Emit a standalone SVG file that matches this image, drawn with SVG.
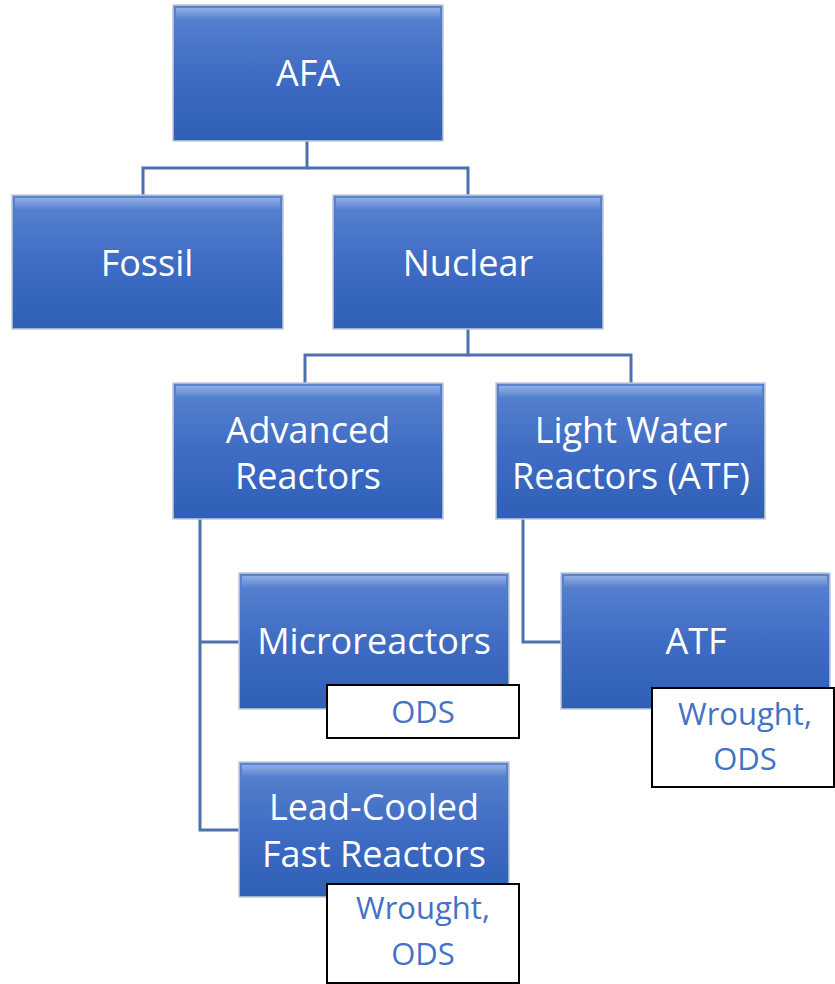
<svg xmlns="http://www.w3.org/2000/svg" width="835" height="984" viewBox="0 0 835 984">
<defs>
<linearGradient id="g" x1="0" y1="0" x2="0" y2="1">
<stop offset="0" stop-color="#5A84D0"/>
<stop offset="0.5" stop-color="#3F6CC4"/>
<stop offset="1" stop-color="#2F5FB7"/>
</linearGradient>
<linearGradient id="hl" x1="0" y1="0" x2="0" y2="1">
<stop offset="0" stop-color="#9DB8E8" stop-opacity="0.8"/>
<stop offset="1" stop-color="#9DB8E8" stop-opacity="0"/>
</linearGradient>
</defs>
<style>
.box{fill:url(#g);stroke:#C3CCDA;stroke-width:1.5}
.hl{fill:url(#hl)}
.t{font-family:"Open Sans","Liberation Sans",sans-serif;font-size:36px;fill:#FFFFFF;text-anchor:middle}
.nb{fill:#FFFFFF;stroke:#000000;stroke-width:2}
.nt{font-family:"Open Sans","Liberation Sans",sans-serif;font-size:31px;fill:#4472C4;text-anchor:middle}
.c{fill:none;stroke:#4D70AE;stroke-width:3}
</style>
<g id="connectors">
<polyline class="c" points="307,141 307,168 143,168 143,195"/>
<polyline class="c" points="307,168 468,168 468,195"/>
<polyline class="c" points="468,329 468,355 305,355 305,383"/>
<polyline class="c" points="468,355 631,355 631,383"/>
<polyline class="c" points="200,519 200,830 239,830"/>
<polyline class="c" points="200,642 239,642"/>
<polyline class="c" points="523,519 523,642 561,642"/>
</g>
<g id="afa">
<rect class="box" x="173" y="5" width="270" height="136"/>
<rect class="hl" x="176" y="8" width="264" height="12"/>
<text class="t" x="308" y="86">AFA</text>
</g>
<g id="fossil">
<rect class="box" x="12" y="195" width="271" height="134"/>
<rect class="hl" x="15" y="198" width="265" height="12"/>
<text class="t" x="147" y="276">Fossil</text>
</g>
<g id="nuclear">
<rect class="box" x="333" y="195" width="270" height="134"/>
<rect class="hl" x="336" y="198" width="264" height="12"/>
<text class="t" x="468" y="276">Nuclear</text>
</g>
<g id="advanced">
<rect class="box" x="173" y="383" width="270" height="136"/>
<rect class="hl" x="176" y="386" width="264" height="12"/>
<text class="t" x="308" y="443">Advanced</text>
<text class="t" x="308" y="489">Reactors</text>
</g>
<g id="lwr">
<rect class="box" x="496" y="383" width="269" height="136"/>
<rect class="hl" x="499" y="386" width="263" height="12"/>
<text class="t" x="631" y="443">Light Water</text>
<text class="t" x="631" y="489">Reactors (ATF)</text>
</g>
<g id="micro">
<rect class="box" x="239" y="573" width="270" height="136"/>
<rect class="hl" x="242" y="576" width="264" height="12"/>
<text class="t" x="374" y="654">Microreactors</text>
</g>
<g id="micro-note">
<rect class="nb" x="327" y="685" width="192" height="53"/>
<text class="nt" x="423" y="723">ODS</text>
</g>
<g id="atf">
<rect class="box" x="561" y="573" width="269" height="136"/>
<rect class="hl" x="564" y="576" width="263" height="12"/>
<text class="t" x="696" y="654">ATF</text>
</g>
<g id="atf-note">
<rect class="nb" x="652" y="688" width="182" height="99"/>
<text class="nt" x="745" y="725">Wrought,</text>
<text class="nt" x="745" y="770">ODS</text>
</g>
<g id="lead">
<rect class="box" x="239" y="762" width="270" height="135"/>
<rect class="hl" x="242" y="765" width="264" height="12"/>
<text class="t" x="374" y="820">Lead-Cooled</text>
<text class="t" x="374" y="867">Fast Reactors</text>
</g>
<g id="lead-note">
<rect class="nb" x="327" y="884" width="192" height="99"/>
<text class="nt" x="423" y="919">Wrought,</text>
<text class="nt" x="423" y="965">ODS</text>
</g>
</svg>
